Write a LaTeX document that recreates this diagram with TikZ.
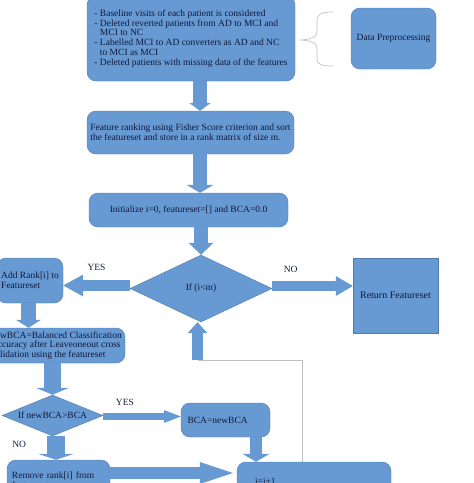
\documentclass[tikz,border=0pt]{standalone}
\usepackage{fontspec}
\setmainfont{Liberation Serif}
\usetikzlibrary{shapes.geometric,arrows.meta,calc}

\definecolor{boxblue}{RGB}{103,153,210}
\definecolor{boxedge}{RGB}{80,124,178}
\definecolor{boxtext}{RGB}{18,26,58}
\definecolor{linegray}{RGB}{192,192,192}

\tikzset{
    box/.style={draw=boxedge, fill=boxblue, rounded corners=9pt, text=boxtext,
        font=\fontsize{9.5}{9.8}\selectfont, inner sep=2pt},
    decision/.style={diamond, draw=boxedge, fill=boxblue, text=boxtext,
        font=\fontsize{9.5}{9.8}\selectfont, inner sep=0pt},
    flow/.style n args={3}{draw=boxblue, line width=#1,
        -{Triangle[width=#2, length=#3, line width=0pt]}},
    tag/.style={text=boxtext, font=\fontsize{9.5}{9.5}\selectfont, inner sep=1pt},
}

\begin{document}
\begin{tikzpicture}
    [x=1pt, y=-1pt]
    \useasboundingbox (0,0) rectangle (474,483);
    \clip (0,0) rectangle (474,483);
    %boxes
    \node[box, minimum width=208pt, minimum height=85pt, align=left] (prep) at (191,38.5)
    {- Baseline visits of each patient is considered\\
    - Deleted reverted patients from AD to MCI and\\
    \phantom{- }MCI to NC\\
    - Labelled MCI to AD converters as AD and NC\\
    \phantom{- }to MCI as MCI\\
    - Deleted patients with missing data of the features};
    \node[box, minimum width=85pt, minimum height=61pt] (dp) at (393.5,38.5) {Data Preprocessing};
    \node[box, minimum width=207pt, minimum height=43pt, align=left] (rank) at (190.5,132.5)
    {Feature ranking using Fisher Score criterion and sort\\
    the featureset and store in a rank matrix of size m.};
    \node[box, minimum width=199pt, minimum height=34pt] (init) at (188.5,210)
    {Initialize i=0, featureset=[] and BCA=0.0};
    \node[decision, aspect=2.12, minimum width=142pt, minimum height=67pt] (cond) at (201,288.5)
    {If (i<m)};
    \node[box, minimum width=66pt, minimum height=45pt, align=left] (add) at (30,280.5)
    {Add Rank[i] to\\Featureset};
    \node[box, sharp corners, minimum width=85pt, minimum height=75pt,
        font=\fontsize{10}{10}\selectfont] (ret) at (395.5,295.5) {Return Featureset};
    \node[box, minimum width=137pt, minimum height=35pt, align=left] (nbca) at (56.5,345.5)
    {newBCA=Balanced Classification\\
    Accuracy after Leaveoneout cross\\
    validation using the featureset};
    \node[decision, aspect=2.46, minimum width=101pt, minimum height=41pt] (cmp) at (52.5,415.5)
    {If newBCA>BCA};
    \node[box, minimum width=89pt, minimum height=34pt, text width=76pt, inner xsep=6.5pt,
        align=left] (bca) at (225.5,420) {BCA=newBCA};
    \node[box, minimum width=103pt, minimum height=40pt, text width=93pt, inner xsep=5pt,
        align=left] (rem) at (58.5,480) {Remove rank[i] from\\featureset};
    \node[box, minimum width=154pt, minimum height=38pt, text width=118pt, inner xsep=18pt,
        align=left] (inc) at (314,481) {i=i+1};
    %brace
    \draw[linegray, line width=0.7pt] (333,12) .. controls (321,12) and (317,14) .. (317,21)
        -- (317,32) .. controls (317,37) and (310,40) .. (299,40)
        .. controls (310,40) and (317,43) .. (317,48)
        -- (317,59) .. controls (317,64) and (321,66) .. (333,66);
    %arrows
    \draw[flow={14pt}{22pt}{8pt}] ($(prep.south)+(9,0)$) -- ($(rank.north)+(9.5,0)$);
    \draw[flow={14pt}{27pt}{8pt}] ($(rank.south)+(9.5,0)$) -- ($(init.north)+(11.5,0)$);
    \draw[flow={14pt}{25pt}{12pt}] ($(init.south)+(12.5,0)$) -- (cond.north);
    \draw[flow={11pt}{22pt}{20pt}] ([yshift=3pt]cond.west) -- ([yshift=-5pt]add.east)
        node[tag, midway, above=8pt]{YES};
    \draw[flow={10pt}{20pt}{17pt}] ([yshift=2.5pt]cond.east) -- ([yshift=9.5pt]ret.west)
        node[tag, pos=0.23, above=7pt]{NO};
    \draw[flow={15pt}{25pt}{8pt}] ([xshift=-1.5pt]add.south) -- ([xshift=-28pt]nbca.north);
    \draw[flow={17pt}{33pt}{7pt}] ([xshift=-4pt]nbca.south) -- (cmp.north);
    \draw[flow={7pt}{13pt}{17pt}] ([yshift=-1pt]cmp.east) -- ([yshift=3.5pt]bca.west)
        node[tag, pos=0.28, above=6pt]{YES};
    \draw[flow={18pt}{36pt}{6pt}] ([xshift=3.5pt]cmp.south) -- ([xshift=-2.5pt]rem.north)
        node[tag, pos=0.35, left=20pt]{NO};
    \draw[flow={12pt}{27pt}{8pt}] ([xshift=30.5pt]bca.south) -- ([xshift=-58pt]inc.north);
    \draw[flow={12pt}{22pt}{33pt}, shorten >=4pt] ([yshift=7pt]rem.east) -- ([yshift=8pt]inc.west);
    %loop back
    \coordinate (back) at (302,360);
    \coordinate (loop) at (197.5,360);
    \draw[linegray, line width=0.7pt] (back |- inc.north) -- (back) -- (loop);
    \draw[flow={11pt}{20pt}{11pt}] (loop) -- (loop |- cond.south);
\end{tikzpicture}
\end{document}
